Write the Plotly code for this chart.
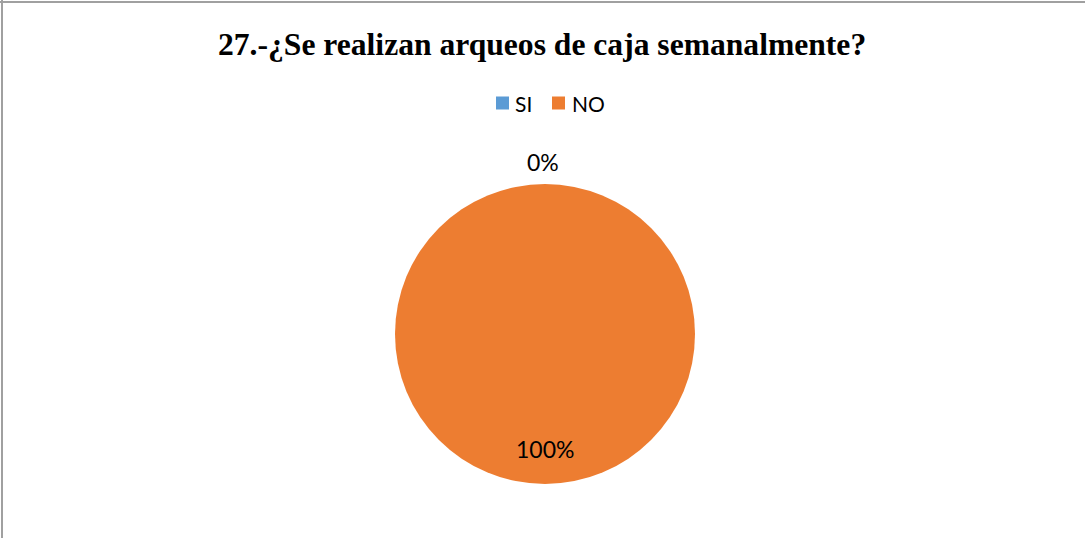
import plotly.graph_objects as go

categories = ["SI", "NO"]
values = [0, 100]
colors = ["#5B9BD5", "#ED7D31"]
title_text = "27.-¿Se realizan arqueos de caja semanalmente?"

W, H = 1085, 538
total = sum(values)
pcts = [f"{round(v / total * 100)}%" for v in values]

fig = go.Figure(go.Pie(
    labels=categories,
    values=values,
    sort=False,
    direction="clockwise",
    rotation=0,
    marker=dict(colors=colors, line=dict(width=0)),
    textinfo="none",
    hoverinfo="label+percent",
    domain=dict(x=[395 / W, 695 / W], y=[1 - 484 / H, 1 - 184 / H]),
    showlegend=False,
))

# percentage labels
label_pos = [(543, 162), (545, 449)]
for (px, py), t in zip(label_pos, pcts):
    fig.add_annotation(x=px / W, y=1 - py / H, xref="paper", yref="paper",
                       text=t, showarrow=False,
                       font=dict(family="Lato", size=23, color="#000000"),
                       xanchor="center", yanchor="middle")

# legend (square + label per category)
legend_square_x = [496, 552]
legend_text_x = [515, 572]
ly = 103
for cat, col, sx, tx in zip(categories, colors, legend_square_x, legend_text_x):
    fig.add_shape(type="rect", xref="paper", yref="paper",
                  x0=sx / W, x1=(sx + 13) / W, y0=1 - (ly + 6.5) / H, y1=1 - (ly - 6.5) / H,
                  fillcolor=col, line=dict(width=0))
    fig.add_annotation(x=tx / W, y=1 - ly / H, xref="paper", yref="paper",
                       text=cat, showarrow=False,
                       font=dict(family="Lato", size=21, color="#000000"),
                       xanchor="left", yanchor="middle", xshift=-2)

fig.add_annotation(x=542 / W, y=1 - 45 / H, xref="paper", yref="paper",
                   text=f"<b>{title_text}</b>", showarrow=False,
                   font=dict(family="Liberation Serif", size=31.6, color="#000000"),
                   xanchor="center", yanchor="middle")

fig.add_shape(type="line", xref="paper", yref="paper",
              x0=0, x1=1, y0=1 - 2 / H, y1=1 - 2 / H,
              line=dict(color="#A0A0A0", width=2))
fig.add_shape(type="line", xref="paper", yref="paper",
              x0=2 / W, x1=2 / W, y0=0, y1=1,
              line=dict(color="#A0A0A0", width=2))

fig.update_layout(
    width=W, height=H,
    margin=dict(l=0, r=0, t=0, b=0),
    paper_bgcolor="white",
    plot_bgcolor="white",
)

fig.write_html("out.html",
               config={"displayModeBar": False},
               post_script="document.body.style.margin='0';document.body.style.overflow='hidden';")
